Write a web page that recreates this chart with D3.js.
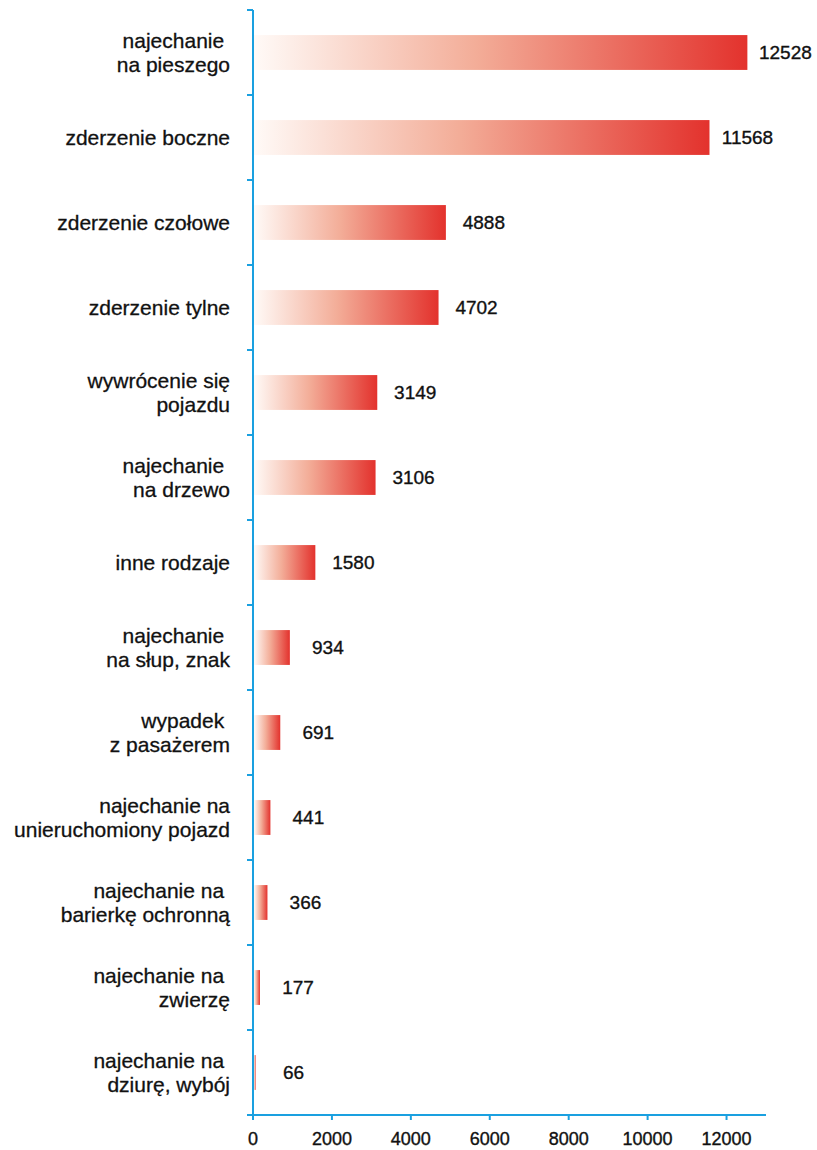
<!DOCTYPE html>
<html>
<head>
<meta charset="utf-8">
<script src="https://cdn.jsdelivr.net/npm/d3@7"></script>
<style>
  html, body { margin: 0; padding: 0; background: #fff; }
  svg { display: block; }
  text { font-family: "Liberation Sans", Arial, sans-serif; fill: #111; }
</style>
</head>
<body>
<svg id="chart" width="817" height="1150"></svg>
<script>
const categories = [
  "najechanie \nna pieszego",
  "zderzenie boczne",
  "zderzenie czołowe",
  "zderzenie tylne",
  "wywrócenie się\npojazdu",
  "najechanie \nna drzewo",
  "inne rodzaje",
  "najechanie \nna słup, znak",
  "wypadek \nz pasażerem",
  "najechanie na\nunieruchomiony pojazd",
  "najechanie na \nbarierkę ochronną",
  "najechanie na \nzwierzę",
  "najechanie na \ndziurę, wybój"
];
const values = [12528, 11568, 4888, 4702, 3149, 3106, 1580, 934, 691, 441, 366, 177, 66];
const xTicks = [0, 2000, 4000, 6000, 8000, 10000, 12000];

const svg = d3.select("#chart");
const axisColor = "#1aa0e0";
const x0 = 253, x1 = 766, yTop = 10, yBot = 1115;

const x = d3.scaleLinear().domain([0, 13000]).range([x0, x1]);
const y = d3.scaleBand().domain(categories).range([yTop, yBot]).paddingInner(0.59).paddingOuter(0.295);
const band = d3.scaleBand().domain(categories).range([yTop, yBot]);

const defs = svg.append("defs");
const grad = defs.append("linearGradient").attr("id", "barGrad")
  .attr("x1", "0%").attr("x2", "100%").attr("y1", "0%").attr("y2", "0%");
grad.append("stop").attr("offset", "0%").attr("stop-color", "#fffaf7");
grad.append("stop").attr("offset", "45%").attr("stop-color", "#f3ad98");
grad.append("stop").attr("offset", "100%").attr("stop-color", "#e3322d");

// bars
svg.append("g").selectAll("rect").data(values).join("rect")
  .attr("x", x(0) + 1)
  .attr("y", (d, i) => y(categories[i]))
  .attr("width", d => Math.max(1.2, x(d) - x(0) - 1))
  .attr("height", y.bandwidth())
  .attr("fill", "url(#barGrad)");

// value labels
svg.append("g").selectAll("text").data(values).join("text")
  .attr("x", d => x(d) + 38)
  .attr("y", (d, i) => band(categories[i]) + band.bandwidth() / 2)
  .attr("dy", "0.36em")
  .attr("text-anchor", "middle")
  .attr("font-size", 19)
  .attr("stroke", "#111").attr("stroke-width", 0.35)
  .text(d => d);

// y axis
const yAxis = svg.append("g").attr("transform", `translate(${x0},0)`);
yAxis.append("line").attr("x1", 0).attr("x2", 0).attr("y1", yTop).attr("y2", yBot)
  .attr("stroke", axisColor).attr("stroke-width", 2);
const yTickPos = categories.map(c => band(c)).concat([yBot]);
yAxis.selectAll("line.tick").data(yTickPos).join("line").attr("class", "tick")
  .attr("x1", -6).attr("x2", 0).attr("y1", d => d).attr("y2", d => d)
  .attr("stroke", axisColor).attr("stroke-width", 2);

// category labels
const lbl = svg.append("g").selectAll("text").data(categories).join("text")
  .attr("text-anchor", "end")
  .attr("font-size", 21)
  .attr("stroke", "#111").attr("stroke-width", 0.3)
  .attr("xml:space", "preserve")
  .style("white-space", "pre");
lbl.each(function(c) {
  const lines = c.split("\n");
  const cy = band(c) + band.bandwidth() / 2;
  const lh = 23.4;
  d3.select(this).selectAll("tspan").data(lines).join("tspan")
    .attr("x", 230)
    .attr("y", (l, i) => cy + (i - (lines.length - 1) / 2) * lh)
    .attr("dy", "0.35em")
    .text(l => l);
});

// x axis
const xAxisG = svg.append("g").attr("transform", `translate(0,${yBot})`);
xAxisG.append("line").attr("x1", x0 - 1).attr("x2", x1).attr("y1", 0).attr("y2", 0)
  .attr("stroke", axisColor).attr("stroke-width", 2);
xAxisG.selectAll("line.tick").data(xTicks).join("line").attr("class", "tick")
  .attr("x1", d => x(d)).attr("x2", d => x(d)).attr("y1", 0).attr("y2", 5)
  .attr("stroke", axisColor).attr("stroke-width", 2);
xAxisG.selectAll("text").data(xTicks).join("text")
  .attr("x", d => x(d))
  .attr("y", 30)
  .attr("text-anchor", "middle")
  .attr("font-size", 18)
  .attr("stroke", "#111").attr("stroke-width", 0.35)
  .text(d => d);
</script>
</body>
</html>
